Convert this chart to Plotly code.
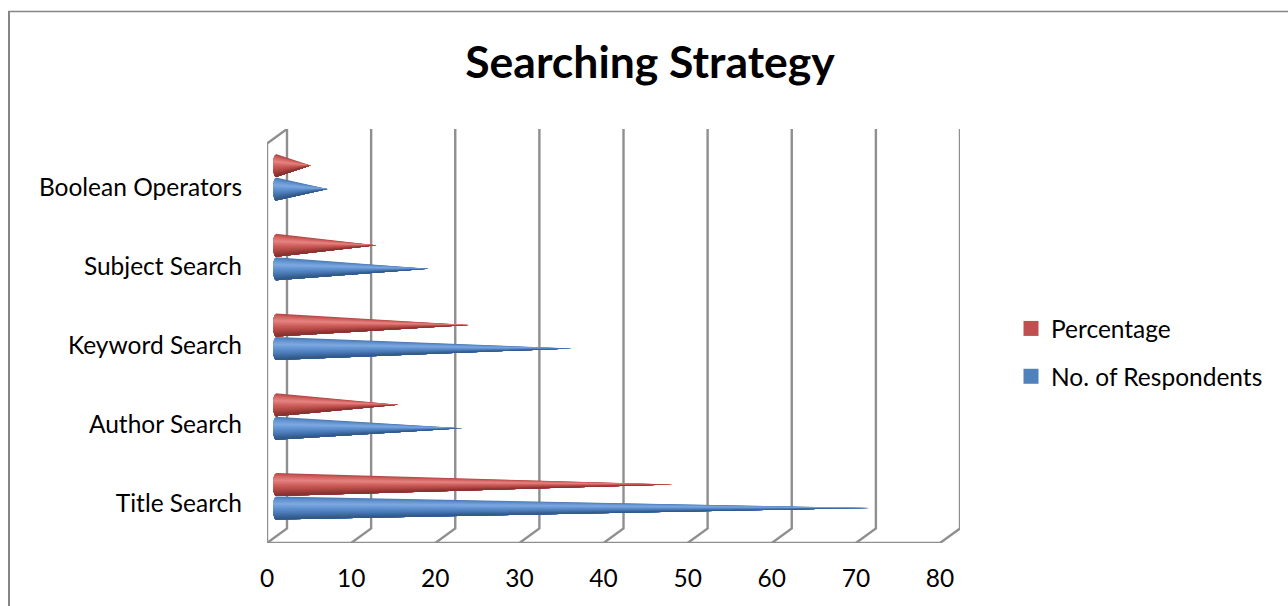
import numpy as np
import plotly.graph_objects as go

# Survey results by search strategy
categories = ["Title Search", "Author Search", "Keyword Search", "Subject Search", "Boolean Operators"]
respondents = [70.4, 22, 35, 18, 6]
percentage = [47, 14.4, 22.8, 11.8, 4]
x_ticks = [0, 10, 20, 30, 40, 50, 60, 70, 80]

W, H = 1288, 606
PLOT_L, PLOT_R, PLOT_T, PLOT_B = 267, 960, 129, 543
X_SCALE = 8.4125       # px per unit on the value axis
Y_SCALE = 79.0         # px per category
X_MAX = (PLOT_R - PLOT_L) / X_SCALE
Y_MIN = -(PLOT_B - 503) / Y_SCALE
Y_MAX = (503 - PLOT_T) / Y_SCALE

# Oblique depth of the chart box, in axis units
DEPTH_X = 20 / X_SCALE
DEPTH_Y = 14.5 / Y_SCALE

# Cone placement inside each category band
CONE_HALF = 11.5 / Y_SCALE
CONE_PITCH = 1.0095
CONE_BASE = 9 / X_SCALE
CONE_TIP_SHIFT = 10 / X_SCALE
BASE_BULGE = 3 / X_SCALE
OFFSET_BLUE = -0.063
OFFSET_RED = 0.234

GRID = "#8f8f8f"
FONT = "Lato"
LABEL_SIZE = 24.5

# Shading stops across the cone, from upper edge (0) to lower edge (1)
SHADE_POS = [0.0, 0.12, 0.32, 0.5, 0.72, 0.9, 1.0]
SHADE_BLUE = ["#4775ad", "#5f90cf", "#7fa9e0", "#6394d3", "#4a79b5", "#36608f", "#2f5585"]
SHADE_RED = ["#ad4643", "#d0605d", "#e58583", "#d2635f", "#b54a47", "#913735", "#833130"]
N_STRIPS = 26


def hex_rgb(c):
    return np.array([int(c[i:i + 2], 16) for i in (1, 3, 5)], dtype=float)


def shade(stops, t):
    rgb = np.array([hex_rgb(c) for c in stops])
    vals = [np.interp(t, SHADE_POS, rgb[:, k]) for k in range(3)]
    return "rgb(%d,%d,%d)" % tuple(int(round(v)) for v in vals)


def cone_traces(values, offset, stops):
    """Each strip runs from its upper edge to the cone's lower edge; later strips overpaint."""
    traces = []
    for k in range(N_STRIPS):
        start = k / N_STRIPS
        xs, ys = [], []
        for i, v in enumerate(values):
            yc = CONE_PITCH * i + offset
            tip_x = v + CONE_TIP_SHIFT
            ts = np.linspace(start, 1, 10)
            us = 2 * ts - 1
            base_x = CONE_BASE - BASE_BULGE * np.sqrt(np.clip(1 - us ** 2, 0, 1))
            base_y = yc - us * CONE_HALF
            xs += [tip_x] + list(base_x) + [tip_x, None]
            ys += [yc] + list(base_y) + [yc, None]
        traces.append(go.Scatter(
            x=xs, y=ys, mode="lines", fill="toself",
            line=dict(width=0), fillcolor=shade(stops, (k + 0.5) / N_STRIPS),
            hoverinfo="skip", showlegend=False))
    return traces


fig = go.Figure()

# Box frame: oblique grid lines at each tick, plus the floor edge and front wall
fy = Y_MIN
grid_x, grid_y = [], []
for t in x_ticks:
    grid_x += [t, t + DEPTH_X, t + DEPTH_X, None]
    grid_y += [fy, fy + DEPTH_Y, Y_MAX, None]
grid_x += [x_ticks[0], x_ticks[-1], None, 0, 0, DEPTH_X]
grid_y += [fy, fy, None, fy, Y_MAX - DEPTH_Y, Y_MAX]
fig.add_trace(go.Scatter(x=grid_x, y=grid_y, mode="lines", cliponaxis=False,
                         line=dict(color=GRID, width=2.4), hoverinfo="skip", showlegend=False))

for tr in cone_traces(respondents, OFFSET_BLUE, SHADE_BLUE):
    fig.add_trace(tr)
for tr in cone_traces(percentage, OFFSET_RED, SHADE_RED):
    fig.add_trace(tr)

# Legend swatches
fig.add_trace(go.Scatter(x=[None], y=[None], mode="markers", name="Percentage",
                         legendgroup="a",
                         marker=dict(symbol="square", size=15, color="#c0504d")))
fig.add_trace(go.Scatter(x=[None], y=[None], mode="markers", name="No. of Respondents",
                         legendgroup="b",
                         marker=dict(symbol="square", size=15, color="#4f81bd")))


# Outer chart frame
def px_x(p):
    return (p - PLOT_L) / (PLOT_R - PLOT_L)


def px_y(p):
    return (PLOT_B - p) / (PLOT_B - PLOT_T)


frame = dict(type="line", xref="paper", yref="paper")
shapes = [
    dict(frame, x0=px_x(9), x1=px_x(9), y0=px_y(11.5), y1=px_y(606), line=dict(color="#868686", width=2)),
    dict(frame, x0=px_x(8), x1=px_x(1288), y0=px_y(11.5), y1=px_y(11.5), line=dict(color="#868686", width=1.5)),
]

fig.update_layout(
    width=W, height=H,
    margin=dict(l=PLOT_L, r=W - PLOT_R, t=PLOT_T, b=H - PLOT_B, autoexpand=False),
    paper_bgcolor="white", plot_bgcolor="white",
    font=dict(family=FONT, color="black", size=LABEL_SIZE),
    shapes=shapes,
    title=dict(text="<b>Searching Strategy</b>", x=650 / W, xanchor="center",
               y=1 - 62 / H, yanchor="middle", font=dict(family=FONT, size=44.5, color="black")),
    xaxis=dict(range=[0, X_MAX], tickvals=x_ticks, showgrid=False, zeroline=False,
               showline=False, ticks="", ticklabelstandoff=18,
               tickfont=dict(size=LABEL_SIZE)),
    yaxis=dict(range=[Y_MIN, Y_MAX], tickvals=list(range(len(categories))), ticktext=categories,
               showgrid=False, zeroline=False, showline=False, ticks="", ticklabelstandoff=24,
               tickfont=dict(size=LABEL_SIZE)),
    legend=dict(x=px_x(1011), y=px_y(306), xanchor="left", yanchor="top",
                traceorder="grouped", tracegroupgap=13, bgcolor="rgba(0,0,0,0)",
                font=dict(size=LABEL_SIZE)),
)

fig.write_html("out.html")
